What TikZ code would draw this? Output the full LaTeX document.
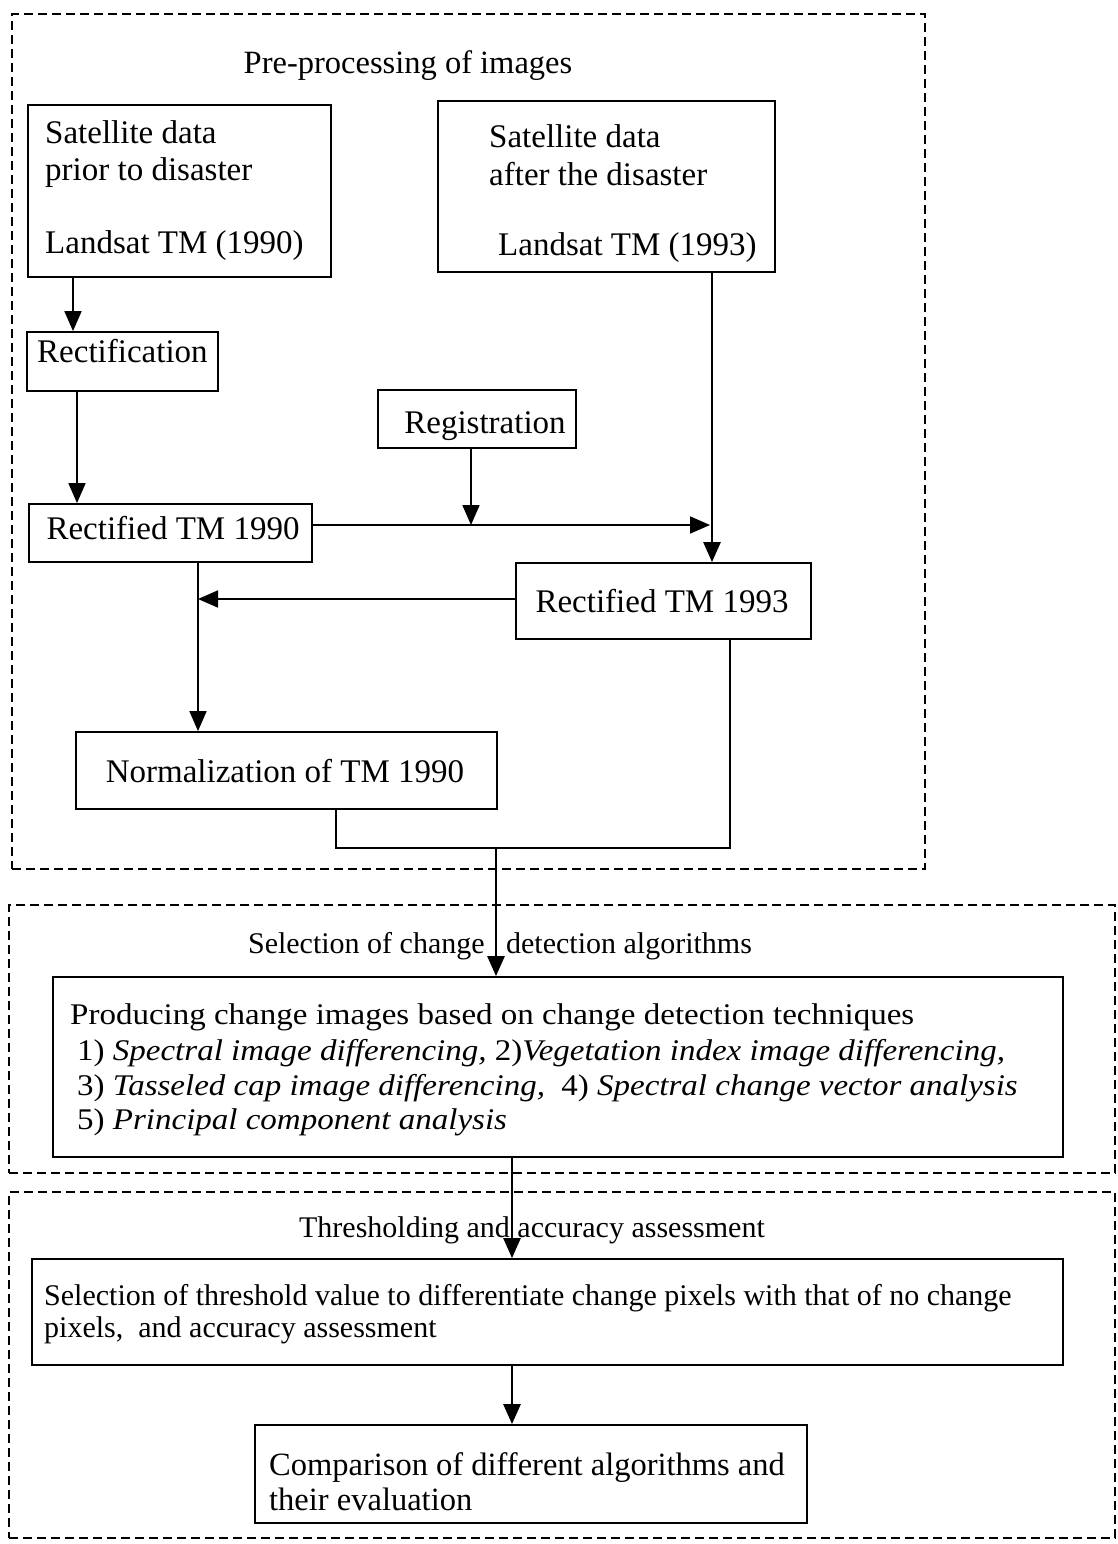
\documentclass[tikz,border=0pt]{standalone}
\usepackage{fontspec}
\setmainfont{Liberation Serif}
\newfontfamily\lowfont[FakeStretch=1.1]{Liberation Serif}
\usetikzlibrary{arrows.meta}
\begin{document}
\begin{tikzpicture}[x=1pt,y=-1pt,
  box/.style={draw, line width=1.8pt, inner sep=0pt},
  frame/.style={draw, line width=1.6pt, dash pattern=on 9pt off 5pt, inner sep=0pt},
  arr/.style={line width=1.8pt, -{Triangle[length=20pt,width=17pt]}},
  arrthick/.style={line width=2.7pt, -{Triangle[length=20pt,width=17pt]}},
  ln/.style={line width=1.8pt},
  top/.style={inner sep=0pt, anchor=base west, font=\fontsize{33}{40}\selectfont},
  ttl/.style={inner sep=0pt, anchor=base, font=\fontsize{30}{36}\selectfont},
  low/.style={inner sep=0pt, anchor=base west, font=\lowfont\fontsize{30}{36}\selectfont},
  plain/.style={inner sep=0pt, anchor=base west, font=\fontsize{30}{36}\selectfont},
]
\useasboundingbox (0,0) rectangle (1117,1544);

% dashed frames
\node[frame, minimum width=913pt, minimum height=855pt] (f1) at (468.5,441.5) {};
\node[frame, minimum width=1106pt, minimum height=268pt] (f2) at (562,1039) {};
\node[frame, minimum width=1106pt, minimum height=346pt] (f3) at (562,1365) {};

% titles
\node[ttl, font=\fontsize{32.5}{38}\selectfont] (t1) at (408,74) {Pre-processing of images};
\node[ttl] (t2) at (500,953) {Selection of change\hspace{14pt} detection algorithms};
\node[ttl] (t3) at (532,1237) {Thresholding and accuracy assessment};

% boxes
\node[box, minimum width=303pt, minimum height=172pt] (sat1) at (179.5,191) {};
\node[box, minimum width=337pt, minimum height=171pt] (sat2) at (606.5,186.5) {};
\node[box, minimum width=191pt, minimum height=59pt] (rectif) at (122.5,361.5) {};
\node[box, minimum width=198pt, minimum height=58pt] (reg) at (477,419) {};
\node[box, minimum width=283pt, minimum height=58pt] (rtm90) at (170.5,533) {};
\node[box, minimum width=295pt, minimum height=76pt] (rtm93) at (663.5,601) {};
\node[box, minimum width=421pt, minimum height=77pt] (norm) at (286.5,770.5) {};
\node[box, minimum width=1010pt, minimum height=180pt] (prod) at (558,1067) {};
\node[box, minimum width=1031pt, minimum height=106pt] (sel) at (547.5,1312) {};
\node[box, minimum width=552pt, minimum height=98pt] (comp) at (531,1474) {};

% texts
\node[top] (s1a) at (45,143) {Satellite data};
\node[top] (s1b) at (45,180) {prior to disaster};
\node[top] (s1c) at (45,253) {Landsat TM (1990)};
\node[top] (s2a) at (489,147) {Satellite data};
\node[top] (s2b) at (489,185) {after the disaster};
\node[top] (s2c) at (498,255) {Landsat TM (1993)};
\node[top] (rt) at (37,362) {Rectification};
\node[top, anchor=base] (rg) at (485,433) {Registration};
\node[top, anchor=base] (r90) at (173,539) {Rectified TM 1990};
\node[top, anchor=base] (r93) at (662,612) {Rectified TM 1993};
\node[top, anchor=base] (nm) at (285,782) {Normalization of TM 1990};

\node[low] (p1) at (70,1024) {Producing change images based on change detection techniques};
\node[low] (p2) at (77,1060) {1) \textit{Spectral image differencing,} 2)\textit{Vegetation index image differencing,}};
\node[low] (p3) at (77,1095) {3) \textit{Tasseled cap image differencing,}\ \ 4) \textit{Spectral change vector analysis}};
\node[low] (p4) at (77,1129) {5) \textit{Principal component analysis}};

\node[plain] (q1) at (44,1305) {Selection of threshold value to differentiate change pixels with that of no change};
\node[plain] (q2) at (44,1337) {pixels,\ \ and accuracy assessment};

\node[plain, font=\fontsize{32.5}{38}\selectfont] (k1) at (269,1475) {Comparison of different algorithms and};
\node[plain, font=\fontsize{32.5}{38}\selectfont] (k2) at (269,1510) {their evaluation};

% helper coordinates
\coordinate (c1) at (73,0);
\coordinate (c2) at (77,0);
\coordinate (c3) at (712,0);
\coordinate (c4) at (198,0);
\coordinate (c5) at (336,0);
\coordinate (c6) at (730,0);
\coordinate (c7) at (512,0);
\coordinate (regx) at (471,0);
\coordinate (hr) at (0,525);
\coordinate (hr2) at (0,599);
\coordinate (j1) at (710,525);
\coordinate (j2) at (198,599);
\coordinate (j3) at (496,848);

% connectors
\draw[arr] (c1 |- sat1.south) -- (c1 |- rectif.north);
\draw[arr] (c2 |- rectif.south) -- (c2 |- rtm90.north);
\draw[arr] (regx |- reg.south) -- (regx |- hr);
\draw[arr] (rtm90.east |- hr) -- (j1);
\draw[arrthick] (c3 |- sat2.south) -- (c3 |- rtm93.north);
\draw[arr] (rtm93.west |- hr2) -- (j2);
\draw[arr] (c4 |- rtm90.south) -- (c4 |- norm.north);
\draw[ln] (c5 |- norm.south) -- (c5 |- j3) -- (c6 |- j3) -- (c6 |- rtm93.south);
\draw[arrthick] (j3) -- (j3 |- prod.north);
\draw[arrthick] (c7 |- prod.south) -- (c7 |- sel.north);
\draw[arrthick] (c7 |- sel.south) -- (c7 |- comp.north);
\end{tikzpicture}
\end{document}
